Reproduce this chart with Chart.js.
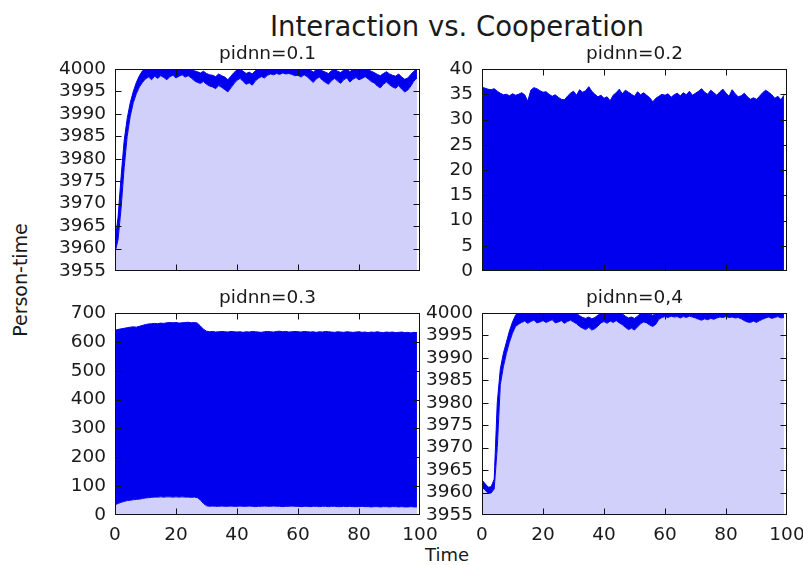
<!DOCTYPE html>
<html>
<head>
<meta charset="utf-8">
<title>Interaction vs. Cooperation</title>
<script src="https://cdn.jsdelivr.net/npm/chart.js@4"></script>
<style>
  html, body { margin: 0; padding: 0; background: #fff; }
  body { position: relative; width: 803px; height: 565px; overflow: hidden; font-family: "DejaVu Sans", sans-serif; color: #1a1a1a; }
  canvas { position: absolute; }
  .label { position: absolute; white-space: nowrap; line-height: 1; }
  #suptitle { font-size: 27.5px; left: 457px; top: 13px; transform: translateX(-50%); }
  #xlabel { font-size: 18px; left: 447px; top: 546px; transform: translateX(-50%); }
  #ylabel { font-size: 19px; left: 20px; top: 280px; transform: translate(-50%, -50%) rotate(-90deg); }
</style>
</head>
<body>
<div id="suptitle" class="label">Interaction vs. Cooperation</div>
<div id="ylabel" class="label">Person-time</div>
<div id="xlabel" class="label">Time</div>

<canvas id="panel1" width="420" height="270" style="left:40px;top:30px"></canvas>
<canvas id="panel2" width="420" height="270" style="left:410px;top:30px"></canvas>
<canvas id="panel3" width="420" height="270" style="left:40px;top:275px"></canvas>
<canvas id="panel4" width="420" height="270" style="left:410px;top:275px"></canvas>

<script>
// time steps of the simulation
const TIME = [
  0, 1, 2, 3, 4, 5, 6, 7, 8, 9,
  10, 11, 12, 13, 14, 15, 16, 17, 18, 19,
  20, 21, 22, 23, 24, 25, 26, 27, 28, 29,
  30, 31, 32, 33, 34, 35, 36, 37, 38, 39,
  40, 41, 42, 43, 44, 45, 46, 47, 48, 49,
  50, 51, 52, 53, 54, 55, 56, 57, 58, 59,
  60, 61, 62, 63, 64, 65, 66, 67, 68, 69,
  70, 71, 72, 73, 74, 75, 76, 77, 78, 79,
  80, 81, 82, 83, 84, 85, 86, 87, 88, 89,
  90, 91, 92, 93, 94, 95, 96, 97, 98, 99
];
const TIME_TICKS = [0, 20, 40, 60, 80, 100];

// pidnn = 0.1 : lower / upper edge of the band
const P1_LO = [
  3959.0, 3962.0, 3969.0, 3978.0, 3985.0, 3989.5, 3992.5, 3994.5, 3996.0, 3997.0,
  3997.8, 3998.2, 3997.6, 3998.4, 3997.9, 3998.5, 3998.1, 3997.6, 3998.3, 3998.6,
  3998.0, 3998.4, 3998.7, 3998.2, 3998.5, 3998.0, 3997.4, 3997.0, 3996.8, 3997.2,
  3996.6, 3996.2, 3996.0, 3995.6, 3996.3, 3995.9, 3995.4, 3994.9, 3995.8, 3996.7,
  3997.5, 3997.9, 3997.2, 3996.6, 3996.9, 3996.4, 3997.3, 3997.9, 3998.3, 3998.0,
  3998.6, 3998.9, 3998.7, 3999.0, 3998.8, 3999.1, 3998.9, 3999.0, 3998.8, 3998.5,
  3998.6, 3998.2, 3998.7, 3998.3, 3997.6, 3997.0, 3997.8, 3998.2, 3997.5, 3997.0,
  3996.6, 3997.4, 3997.9, 3997.3, 3996.8, 3997.6, 3998.0, 3997.1, 3997.7, 3998.1,
  3997.6, 3997.9, 3998.3, 3997.8, 3997.2, 3996.9, 3996.2, 3995.8, 3996.6, 3997.1,
  3996.5, 3996.0, 3995.7, 3996.3, 3995.5, 3994.9, 3995.3, 3996.2, 3997.3, 3998.0
];
const P1_HI = [
  3961.5, 3967.0, 3976.0, 3984.0, 3989.0, 3992.5, 3995.0, 3997.0, 3998.5, 3999.6,
  4000.2, 4000.4, 4000.0, 4000.3, 4000.1, 4000.4, 4000.2, 3999.8, 4000.3, 4000.4,
  4000.1, 4000.3, 4000.4, 4000.2, 4000.3, 4000.0, 3999.6, 3999.4, 3999.1, 3999.5,
  3999.0, 3998.7, 3998.6, 3998.3, 3998.9, 3998.5, 3998.2, 3997.6, 3998.4, 3999.2,
  3999.8, 4000.0, 3999.5, 3999.0, 3999.3, 3998.9, 3999.6, 4000.1, 4000.3, 4000.2,
  4000.4, 4000.4, 4000.3, 4000.5, 4000.4, 4000.5, 4000.4, 4000.5, 4000.3, 4000.2,
  4000.3, 4000.1, 4000.3, 4000.2, 3999.8, 3999.3, 3999.9, 4000.1, 3999.6, 3999.3,
  3999.0, 3999.6, 4000.0, 3999.5, 3999.2, 3999.8, 4000.1, 3999.4, 3999.9, 4000.2,
  3999.8, 4000.0, 4000.2, 3999.9, 3999.5, 3999.2, 3998.8, 3998.5, 3999.0, 3999.4,
  3998.9, 3998.6, 3998.4, 3998.9, 3998.2, 3997.7, 3998.0, 3998.8, 3999.5, 4000.0
];

// pidnn = 0.2 : upper edge (band reaches down to zero)
const P2_HI = [
  36.4, 36.2, 36.0, 35.9, 36.1, 35.6, 35.2, 34.9, 35.0, 34.7,
  35.1, 34.8, 35.0, 35.3, 34.9, 33.6, 35.8, 36.3, 36.1, 35.7,
  35.4, 35.5, 35.0, 34.6, 34.9, 34.4, 34.0, 33.9, 34.6, 35.2,
  35.6, 34.8, 35.9, 35.4, 35.7, 36.5, 35.6, 35.0, 34.5, 34.8,
  34.2, 34.5, 33.7, 34.8, 35.3, 36.0, 35.1, 35.8, 35.4, 35.0,
  34.6, 35.5, 34.9, 35.3, 34.8, 34.3, 33.5, 34.2, 34.6, 35.0,
  34.8, 35.1, 34.4, 34.9, 35.2, 34.7, 35.3, 34.9, 35.6, 34.8,
  35.2, 35.6, 36.1, 35.4, 35.0, 35.8, 35.3, 34.8, 35.5, 36.0,
  35.2, 34.6, 35.9, 35.1, 34.5, 34.7, 35.2, 34.5, 34.0, 34.3,
  34.0, 34.6, 35.3, 35.8, 35.4, 34.9, 34.2, 34.6, 33.9, 34.8
];

// pidnn = 0.3 : lower / upper edge of the band
const P3_LO = [
  35, 40, 44, 47, 50, 51, 53, 54, 55, 57,
  59, 60, 61, 62, 62, 63, 62, 63, 63, 62,
  63, 62, 63, 62, 62, 61, 62, 60, 52, 40,
  32, 30, 31, 30, 30, 31, 30, 30, 31, 30,
  30, 31, 30, 30, 31, 30, 29, 30, 30, 31,
  30, 30, 31, 30, 30, 29, 30, 30, 31, 30,
  30, 29, 30, 30, 29, 30, 30, 29, 30, 30,
  29, 30, 30, 29, 29, 30, 29, 30, 29, 29,
  29, 30, 29, 29, 28, 29, 29, 28, 29, 29,
  28, 29, 29, 28, 29, 28, 28, 29, 28, 28
];
const P3_HI = [
  640, 643, 645, 647, 649, 651, 652, 651, 654, 657,
  660, 662, 663, 664, 663, 665, 664, 666, 667, 666,
  667, 665, 666, 667, 668, 666, 667, 665, 655, 644,
  637, 635, 636, 634, 635, 636, 635, 634, 636, 635,
  634, 635, 633, 635, 634, 636, 635, 634, 633, 635,
  636, 635, 634, 636, 637, 635, 636, 634, 635, 636,
  635, 634, 636, 635, 634, 635, 633, 635, 634, 636,
  635, 634, 633, 635, 634, 633, 635, 634, 633, 634,
  635, 633, 634, 632, 634, 633, 635, 633, 632, 634,
  633, 634, 632, 633, 634, 632, 633, 631, 633, 632
];

// pidnn = 0.4 : lower / upper edge of the band
const P4_LO = [
  3961.2, 3960.6, 3959.8, 3959.9, 3960.8, 3970.0, 3984.0, 3988.0, 3991.0, 3993.5,
  3995.5, 3997.0, 3997.5, 3997.9, 3998.2, 3997.7, 3998.1, 3998.4, 3997.8, 3998.0,
  3998.3, 3997.9, 3998.2, 3998.5, 3997.8, 3998.0, 3998.3, 3997.7, 3998.1, 3998.4,
  3998.0, 3997.6, 3997.0, 3996.6, 3996.3, 3996.8, 3996.2, 3996.5, 3997.1, 3997.8,
  3998.1, 3997.7, 3998.2, 3997.9, 3998.3, 3997.8, 3997.4, 3996.8, 3996.3, 3996.6,
  3996.2, 3996.9, 3997.6, 3998.0, 3997.8, 3997.3, 3997.0, 3997.5, 3998.6, 3999.0,
  3999.2, 3999.0, 3999.3, 3999.1, 3999.2, 3998.9, 3999.2, 3999.0, 3999.3, 3999.1,
  3998.9, 3998.6, 3998.4, 3998.7, 3998.5, 3998.8, 3998.6, 3998.9, 3999.1, 3999.0,
  3999.2, 3999.0, 3999.1, 3998.9, 3999.0, 3998.7, 3998.3, 3998.0, 3997.9, 3998.2,
  3997.9, 3998.3, 3998.6, 3998.9, 3999.1, 3998.8, 3999.0, 3999.2, 3998.9, 3999.0
];
const P4_HI = [
  3962.8, 3962.0, 3961.2, 3961.3, 3963.0, 3980.0, 3987.5, 3991.0, 3993.5, 3996.0,
  3998.0, 3999.5, 4000.3, 4000.2, 4000.4, 4000.1, 4000.3, 4000.4, 4000.2, 4000.3,
  4000.4, 4000.2, 4000.3, 4000.4, 4000.1, 4000.3, 4000.4, 4000.2, 4000.3, 4000.4,
  4000.2, 3999.9, 3999.4, 3999.0, 3998.8, 3999.1, 3998.7, 3999.0, 3999.5, 4000.0,
  4000.3, 4000.1, 4000.3, 4000.2, 4000.4, 4000.1, 3999.8, 3999.3, 3998.9, 3999.1,
  3998.8, 3999.3, 3999.9, 4000.2, 4000.1, 3999.8, 3999.5, 3999.9, 4000.4, 4000.5,
  4000.5, 4000.4, 4000.5, 4000.4, 4000.5, 4000.4, 4000.5, 4000.4, 4000.5, 4000.4,
  4000.3, 4000.2, 4000.1, 4000.2, 4000.1, 4000.3, 4000.2, 4000.3, 4000.4, 4000.3,
  4000.4, 4000.3, 4000.4, 4000.3, 4000.4, 4000.2, 4000.0, 3999.8, 3999.7, 3999.9,
  3999.8, 4000.1, 4000.2, 4000.3, 4000.4, 4000.2, 4000.3, 4000.4, 4000.2, 4000.3
];

const BLUE = 'rgb(0, 0, 238)';
const LIGHT = 'rgb(208, 208, 250)';
const TEXT = '#1a1a1a';
const FONT = 'DejaVu Sans';

// Box around the plot area, inward tick marks on all four sides, panel title
const frameAndTicks = {
  id: 'frameAndTicks',
  afterDraw(chart, args, opts) {
    const { ctx, chartArea: a, scales: { x, y } } = chart;
    const L = Math.round(a.left) + 0.5;
    const R = Math.round(a.right) - 0.5;
    const T = Math.round(a.top) + 0.5;
    const B = Math.round(a.bottom) - 0.5;
    const len = 6;

    ctx.save();
    ctx.strokeStyle = '#111';
    ctx.lineWidth = 1;
    ctx.beginPath();
    x.ticks.forEach(t => {
      const px = Math.round(x.getPixelForValue(t.value)) + 0.5;
      if (px <= L + 1 || px >= R - 1) return;
      ctx.moveTo(px, B); ctx.lineTo(px, B - len);
      ctx.moveTo(px, T); ctx.lineTo(px, T + len);
    });
    y.ticks.forEach(t => {
      const py = Math.round(y.getPixelForValue(t.value)) + 0.5;
      if (py <= T + 1 || py >= B - 1) return;
      ctx.moveTo(L, py); ctx.lineTo(L + len, py);
      ctx.moveTo(R, py); ctx.lineTo(R - len, py);
    });
    ctx.stroke();
    ctx.strokeRect(L, T, R - L, B - T);

    ctx.fillStyle = TEXT;
    ctx.font = '18.5px "' + FONT + '"';
    ctx.textAlign = 'center';
    ctx.textBaseline = 'alphabetic';
    ctx.fillText(opts.text, (a.left + a.right) / 2, a.top - 10);
    ctx.restore();
  }
};

function bandLine(data, fill, color) {
  return {
    data: data,
    fill: fill,
    backgroundColor: color,
    borderColor: BLUE,
    borderWidth: 1,
    pointRadius: 0,
    tension: 0
  };
}

function makePanel(id, p) {
  const ctx = document.getElementById(id).getContext('2d');
  return new Chart(ctx, {
    type: 'line',
    data: { labels: TIME, datasets: p.datasets },
    options: {
      responsive: false,
      animation: false,
      devicePixelRatio: 1,
      layout: { padding: { top: p.padTop, right: p.padRight, left: 0, bottom: 0 } },
      plugins: {
        legend: { display: false },
        tooltip: { enabled: false },
        frameAndTicks: { text: p.title }
      },
      scales: {
        x: {
          type: 'linear',
          min: 0,
          max: 100,
          afterBuildTicks: s => { s.ticks = TIME_TICKS.map(v => ({ value: v })); },
          grid: { display: false, drawTicks: false },
          border: { display: false },
          ticks: {
            display: p.showX,
            autoSkip: false,
            padding: 9,
            color: TEXT,
            font: { family: FONT, size: 18.5 },
            maxRotation: 0,
            callback: v => String(v)
          },
          afterFit: s => { s.height = p.xHeight; }
        },
        y: {
          min: p.yMin,
          max: p.yMax,
          grid: { display: false, drawTicks: false },
          border: { display: false },
          ticks: {
            stepSize: p.yStep,
            autoSkip: false,
            padding: 9,
            color: TEXT,
            font: { family: FONT, size: 18.5 },
            callback: v => String(v)
          },
          afterFit: s => { s.width = p.yWidth; }
        }
      }
    },
    plugins: [frameAndTicks]
  });
}

makePanel('panel1', {
  title: 'pidnn=0.1', yMin: 3955, yMax: 4000, yStep: 5, showX: false,
  padTop: 39, padRight: 40, xHeight: 29, yWidth: 75,
  datasets: [bandLine(P1_LO, 'start', LIGHT), bandLine(P1_HI, '-1', BLUE)]
});

makePanel('panel2', {
  title: 'pidnn=0.2', yMin: 0, yMax: 40, yStep: 5, showX: false,
  padTop: 39, padRight: 43, xHeight: 29, yWidth: 72,
  datasets: [bandLine(P2_HI, 'origin', BLUE)]
});

makePanel('panel3', {
  title: 'pidnn=0.3', yMin: 0, yMax: 700, yStep: 100, showX: true,
  padTop: 38, padRight: 40, xHeight: 30, yWidth: 75,
  datasets: [bandLine(P3_LO, 'origin', LIGHT), bandLine(P3_HI, '-1', BLUE)]
});

makePanel('panel4', {
  title: 'pidnn=0,4', yMin: 3955, yMax: 4000, yStep: 5, showX: true,
  padTop: 38, padRight: 43, xHeight: 30, yWidth: 72,
  datasets: [bandLine(P4_LO, 'start', LIGHT), bandLine(P4_HI, '-1', BLUE)]
});
</script>
</body>
</html>
